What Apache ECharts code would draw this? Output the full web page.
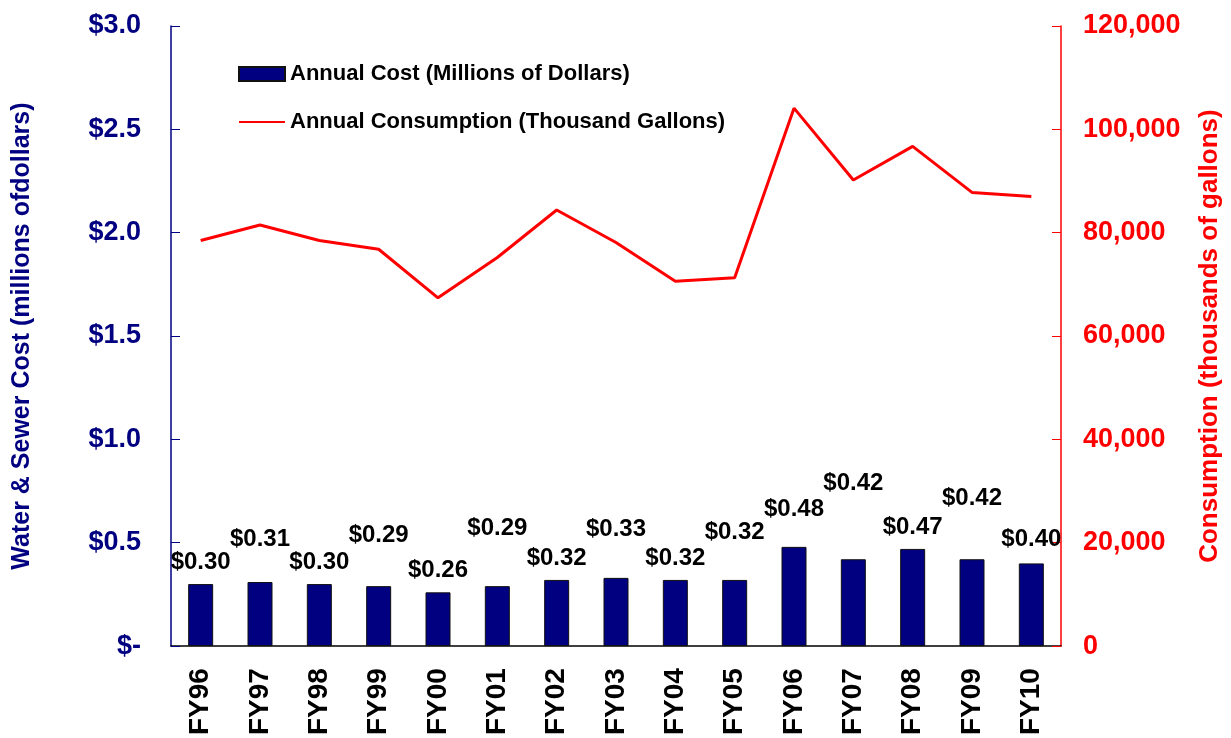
<!DOCTYPE html>
<html>
<head>
<meta charset="utf-8">
<title>Water & Sewer Cost vs Consumption</title>
<script src="https://cdn.jsdelivr.net/npm/echarts@6/dist/echarts.min.js"></script>
<style>
  html, body { margin: 0; padding: 0; background: #fff; }
  #chart { width: 1231px; height: 738px; }
</style>
</head>
<body>
<div id="chart"></div>
<script>
// chart data
const categories = ['FY96', 'FY97', 'FY98', 'FY99', 'FY00', 'FY01', 'FY02', 'FY03',
  'FY04', 'FY05', 'FY06', 'FY07', 'FY08', 'FY09', 'FY10']
const costValues = [0.30, 0.31, 0.30, 0.29, 0.26, 0.29, 0.32, 0.33, 0.32, 0.32, 0.48, 0.42, 0.47, 0.42, 0.40]
const consumptionValues = [78500, 81500, 78500, 76800, 67400, 75200, 84400, 78100,
  70600, 71300, 104100, 90200, 96700, 87800, 87000]

const font = 'Arial, "Liberation Sans", sans-serif'
const navy = '#000080'

// labels in the original were dragged up by hand, so each has its own gap
const labelGap = [10, 31, 10, 39, 10, 46, 10, 36, 10, 36, 25, 64, 10, 49, 12]

const chart = echarts.init(document.getElementById('chart'))

const option = {
  animation: false,
  textStyle: { fontFamily: font },
  grid: { left: 171, right: 165, top: 26, bottom: 84 },
  legend: {
    orient: 'vertical',
    left: 233,
    top: 58,
    itemWidth: 46,
    itemHeight: 14,
    itemGap: 26,
    textStyle: { fontSize: 22, fontWeight: 'bold', color: '#000', fontFamily: font },
    data: [
      { name: 'Annual Cost (Millions of Dollars)', icon: 'rect' },
      { name: 'Annual Consumption (Thousand Gallons)', itemStyle: { opacity: 0 } }
    ]
  },
  xAxis: {
    type: 'category',
    data: categories,
    axisLine: { lineStyle: { color: '#000', width: 1.5 } },
    axisTick: { show: false },
    axisLabel: {
      rotate: 90,
      margin: 22,
      fontSize: 28,
      fontWeight: 'bold',
      color: '#000'
    }
  },
  yAxis: [
    {
      type: 'value',
      min: 0,
      max: 3,
      interval: 0.5,
      name: 'Water & Sewer Cost (millions ofdollars)',
      nameLocation: 'middle',
      nameGap: 136,
      nameTextStyle: { fontSize: 25, fontWeight: 'bold', color: navy },
      axisLine: { show: true, lineStyle: { color: navy, width: 1.5 } },
      axisTick: { show: true, inside: true, length: 9, lineStyle: { color: navy } },
      splitLine: { show: false },
      axisLabel: {
        margin: 30,
        fontSize: 27,
        fontWeight: 'bold',
        color: navy,
        formatter: v => v === 0 ? '$-' : '$' + v.toFixed(1)
      }
    },
    {
      type: 'value',
      min: 0,
      max: 120000,
      interval: 20000,
      name: 'Consumption (thousands of gallons)',
      nameLocation: 'middle',
      nameGap: 136,
      nameTextStyle: { fontSize: 26, fontWeight: 'bold', color: '#ff0000' },
      axisLine: { show: true, lineStyle: { color: '#ff0000', width: 1.5 } },
      axisTick: { show: true, inside: true, length: 9, lineStyle: { color: '#ff0000' } },
      splitLine: { show: false },
      axisLabel: {
        margin: 22,
        fontSize: 27,
        fontWeight: 'bold',
        color: '#ff0000',
        formatter: v => v.toLocaleString('en-US')
      }
    }
  ],
  series: [
    {
      name: 'Annual Cost (Millions of Dollars)',
      type: 'bar',
      yAxisIndex: 0,
      barWidth: 25,
      itemStyle: { color: navy, borderColor: '#111', borderWidth: 1 },
      label: {
        show: true,
        position: 'top',
        fontSize: 24,
        fontWeight: 'bold',
        color: '#000',
        formatter: p => '$' + p.value.toFixed(2)
      },
      data: costValues.map((v, i) => ({ value: v, label: { distance: labelGap[i] } }))
    },
    {
      name: 'Annual Consumption (Thousand Gallons)',
      type: 'line',
      yAxisIndex: 1,
      symbol: 'none',
      lineStyle: { color: '#ff0000', width: 3 },
      itemStyle: { color: '#ff0000' },
      data: consumptionValues
    }
  ]
}

chart.setOption(option)
</script>
</body>
</html>
